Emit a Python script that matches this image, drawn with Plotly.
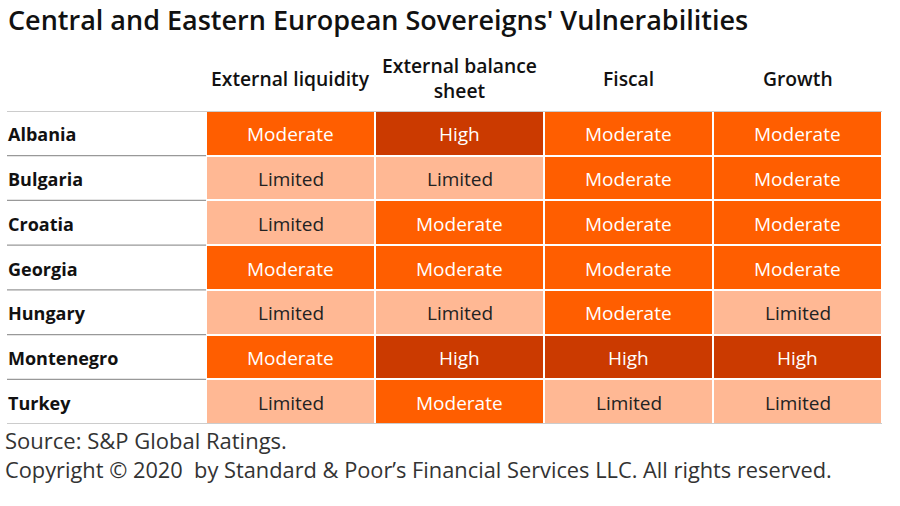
import plotly.graph_objects as go

countries = ["Albania", "Bulgaria", "Croatia", "Georgia", "Hungary", "Montenegro", "Turkey"]
columns = ["External liquidity", "External balance<br>sheet", "Fiscal", "Growth"]
levels = ["Limited", "Moderate", "High"]
ratings = [
    ["Moderate", "High", "Moderate", "Moderate"],
    ["Limited", "Limited", "Moderate", "Moderate"],
    ["Limited", "Moderate", "Moderate", "Moderate"],
    ["Moderate", "Moderate", "Moderate", "Moderate"],
    ["Limited", "Limited", "Moderate", "Limited"],
    ["Moderate", "High", "High", "High"],
    ["Limited", "Moderate", "Limited", "Limited"],
]
level_colors = ["#FFB894", "#FF5E00", "#CB3A00"]
text_colors = ["#222222", "#FFFFFF", "#FFFFFF"]

FONT = "Open Sans"
W, H = 900, 506
x0, x1 = 206, 882
y0, y1 = 111, 424
left = 7

z = [[levels.index(r) for r in row] for row in ratings]
xs = list(range(len(columns)))
ys = list(range(len(countries)))

colorscale = [
    [0.0, level_colors[0]], [1/3, level_colors[0]],
    [1/3, level_colors[1]], [2/3, level_colors[1]],
    [2/3, level_colors[2]], [1.0, level_colors[2]],
]

fig = go.Figure()
fig.add_trace(go.Heatmap(
    z=z, x=xs, y=ys, zmin=-0.5, zmax=2.5, colorscale=colorscale,
    showscale=False, xgap=2, ygap=2, hoverinfo="skip",
))

ann = []
for i, row in enumerate(ratings):
    for j, r in enumerate(row):
        ann.append(dict(x=j, xref="x", y=i, yref="y", text=r, showarrow=False,
                        xanchor="center", yanchor="middle", yshift=-1,
                        font=dict(family=FONT, size=19, color=text_colors[levels.index(r)])))
for i, c in enumerate(countries):
    ann.append(dict(x=(left - 1) / W, xref="paper", y=i, yref="y", text=c, showarrow=False,
                    xanchor="left", yanchor="middle", yshift=-1,
                    font=dict(family=FONT, size=18, color="#111111", weight="bold")))
for j, c in enumerate(columns):
    ann.append(dict(x=j, xref="x", y=1 - 78 / H, yref="paper", text=c, showarrow=False,
                    xanchor="center", yanchor="middle",
                    font=dict(family=FONT, size=19.3, color="#111111", weight=600)))
ann.append(dict(x=(left - 1) / W, xref="paper", y=1 - 19 / H, yref="paper",
                text="Central and Eastern European Sovereigns' Vulnerabilities",
                showarrow=False, xanchor="left", yanchor="middle",
                font=dict(family=FONT, size=27, color="#111111", weight=600)))
ann.append(dict(x=3 / W, xref="paper", y=1 - 440 / H, yref="paper",
                text="Source: S&P Global Ratings.", showarrow=False, xanchor="left", yanchor="middle",
                font=dict(family=FONT, size=22, color="#333333")))
ann.append(dict(x=3 / W, xref="paper", y=1 - 469 / H, yref="paper",
                text="Copyright \u00a9 2020  by Standard & Poor\u2019s Financial Services LLC. All rights reserved.",
                showarrow=False, xanchor="left", yanchor="middle",
                font=dict(family=FONT, size=21.8, color="#333333")))

shapes = []
for k in range(len(countries) + 1):
    yk = k - 0.5
    full = k == 0 or k == len(countries)
    shapes.append(dict(type="line", xref="paper", yref="y", x0=left / W,
                       x1=(x1 / W) if full else (x0 / W), y0=yk, y1=yk,
                       line=dict(color="#999999", width=1.2), layer="above" if full else "below"))

fig.update_layout(
    width=W, height=H, margin=dict(l=0, r=0, t=0, b=0),
    paper_bgcolor="white", plot_bgcolor="white",
    xaxis=dict(domain=[x0 / W, x1 / W], range=[-0.5, 3.5], visible=False, fixedrange=True),
    yaxis=dict(domain=[1 - y1 / H, 1 - y0 / H], range=[6.5, -0.5], visible=False, fixedrange=True),
    annotations=ann, shapes=shapes, showlegend=False,
)
fig.write_html("out.html", config={"displayModeBar": False},
               post_script="document.body.style.margin='0';document.body.style.padding='0';")
